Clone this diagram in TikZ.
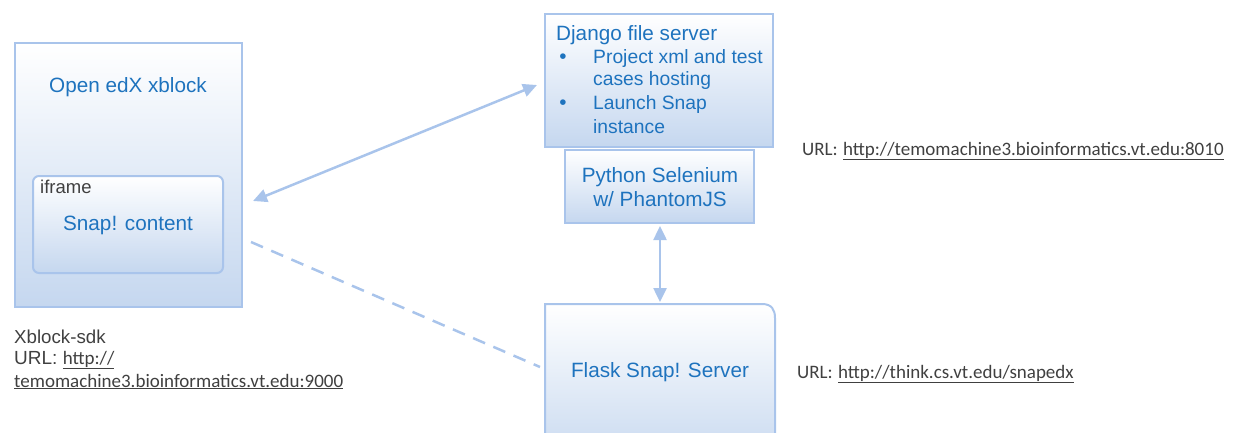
\documentclass[tikz,border=0pt]{standalone}
\usepackage{fontspec}
\setmainfont{Liberation Sans}
\newfontfamily\urlfont{Carlito}
\usetikzlibrary{arrows.meta}
\definecolor{edge}{HTML}{A9C4EB}
\definecolor{boxbot}{HTML}{C5D7EF}
\definecolor{txtblue}{HTML}{1E73BE}
\definecolor{txtgray}{HTML}{404040}
\tikzset{
  panel/.style={draw=edge, line width=2pt, top color=white, bottom color=boxbot},
  boxtext/.style={text=txtblue, font=\fontsize{20.7}{23}\selectfont, inner sep=0pt},
  bullettext/.style={text=txtblue, font=\fontsize{19.3}{23}\selectfont, inner sep=0pt, anchor=west},
  graytext/.style={text=txtgray, font=\fontsize{18.7}{22}\selectfont, inner sep=0pt, anchor=base west},
  urltext/.style={text=txtgray, font=\fontsize{19}{22}\selectfont, inner sep=0pt, anchor=base west},
  link/.style={draw=edge, line width=2.5pt},
  bothtip/.style={{Triangle[length=14pt,width=13pt]}-{Triangle[length=14pt,width=13pt]}},
}
\newcommand{\ul}[1]{{\urlfont\underline{#1}}}
\begin{document}
\begin{tikzpicture}[x=1pt,y=-1pt]
\useasboundingbox (0,0) rectangle (1235,432);
\clip (0,0) rectangle (1235,432);
% xblock
\draw[panel] (15,43) rectangle (242,307);
\node[boxtext] (xbtitle) at (128,87) {Open edX xblock};
\draw[panel, rounded corners=6pt] (33,176) rectangle (223,273);
\node[text=txtgray, font=\fontsize{18.5}{22}\selectfont, inner sep=0pt, anchor=west] (iframe) at (40,187) {iframe};
\node[boxtext] (snapc) at (128,225) {Snap! content};
% django
\draw[panel] (545,14) rectangle (773,147);
\node[boxtext, anchor=west] (dj) at (556,35) {Django file server};
\node[boxtext] (b1) at (563,59) {•};
\node[bullettext] (l1) at (593,59) {Project xml and test};
\node[bullettext] (l2) at (593,81) {cases hosting};
\node[boxtext] (b2) at (563,105) {•};
\node[bullettext] (l3) at (593,105) {Launch Snap};
\node[bullettext] (l4) at (593,127) {instance};
% python
\draw[panel] (565,150) rectangle (754,223);
\node[boxtext, align=center] (py) at (660,187) {Python Selenium\\[1pt]w/ PhantomJS};
% flask
\draw[panel] (545,470) -- (545,304) -- (762,304) .. controls (772,304) and (775,310) .. (775,318) -- (775,470);
\node[boxtext] (flask) at (660,372) {Flask Snap! Server};
% connectors
\coordinate (a1) at (253,201);
\coordinate (a2) at (537,85);
\draw[link, bothtip] (a1) -- (a2);
\coordinate (v1) at (660,226);
\coordinate (v2) at (660,302);
\draw[link, bothtip] (v1) -- (v2);
\coordinate (d1) at (251,242);
\coordinate (d2) at (540,367);
\draw[link, dash pattern=on 13pt off 9pt] (d1) -- (d2);
% labels
\node[graytext] (sdk) at (14,343) {Xblock-sdk};
\node[urltext] (u1) at (14,364) {URL: \ul{http://}};
\node[urltext] (u2) at (14,387) {\ul{temomachine3.bioinformatics.vt.edu:9000}};
\node[urltext] (u3) at (802,155) {{\urlfont URL:} \ul{http://temomachine3.bioinformatics.vt.edu:8010}};
\node[urltext] (u4) at (797,378) {{\urlfont URL:} \ul{http://think.cs.vt.edu/snapedx}};
\end{tikzpicture}
\end{document}
